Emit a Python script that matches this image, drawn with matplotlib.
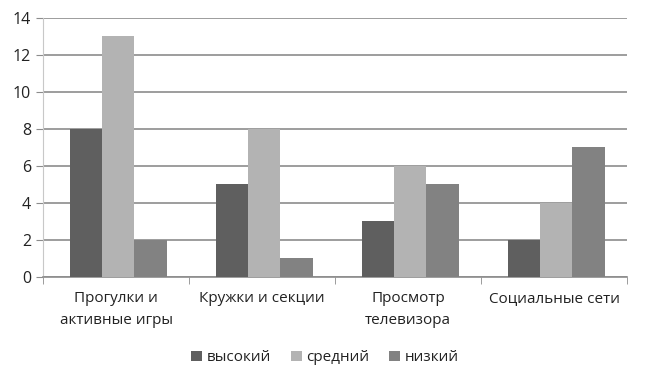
import matplotlib.pyplot as plt
import numpy as np

# Data
categories = ["Прогулки и\nактивные игры", "Кружки и секции", "Просмотр\nтелевизора", "Социальные сети"]
series_names = ["высокий", "средний", "низкий"]
high = [8, 5, 3, 2]
mid = [13, 8, 6, 4]
low = [2, 1, 5, 7]
colors = ["#5f5f5f", "#b3b3b3", "#828282"]

plt.rcParams['font.family'] = ['Open Sans', 'DejaVu Sans']

fig = plt.figure(figsize=(6.46, 3.86), dpi=100)
ax = fig.add_axes([0.0666, 0.2824, 0.904, 0.671])

x = np.arange(len(categories))
w = 0.222
for i, (vals, name) in enumerate(zip([high, mid, low], series_names)):
    ax.bar(x + (i - 1) * w + 0.015, vals, width=w, color=colors[i], label=name, zorder=3)

ax.set_xlim(-0.5, len(categories) - 0.5)
ax.set_ylim(0, 14)
ax.set_yticks(range(0, 15, 2))
ax.yaxis.grid(True, color="#8c8c8c", linewidth=1.2, zorder=0)

# category labels, with tick marks at group boundaries
ax.set_xticks(x)
ax.set_xticklabels(categories, fontsize=11, color="#222222", linespacing=1.65)
ax.tick_params(axis='x', length=0, pad=10)
ax.set_xticks(np.arange(-0.5, len(categories)), minor=True)
ax.tick_params(axis='x', which='minor', length=5, color="#8c8c8c", direction='out')

ax.tick_params(axis='y', labelsize=11.5, colors="#222222", length=5, color="#8c8c8c")
for s in ['top', 'right']:
    ax.spines[s].set_visible(False)
ax.spines['left'].set_color("#c8c8c8")
ax.spines['bottom'].set_color("#8c8c8c")
ax.spines['bottom'].set_linewidth(1.2)

ax.legend(loc='upper center', bbox_to_anchor=(0.483, -0.23), ncol=3, frameon=False,
          fontsize=11, handlelength=0.7, handleheight=0.7, handletextpad=0.3,
          columnspacing=1.3)
for t in ax.get_legend().get_texts():
    t.set_color("#222222")

fig.savefig("out.png", dpi=100)
